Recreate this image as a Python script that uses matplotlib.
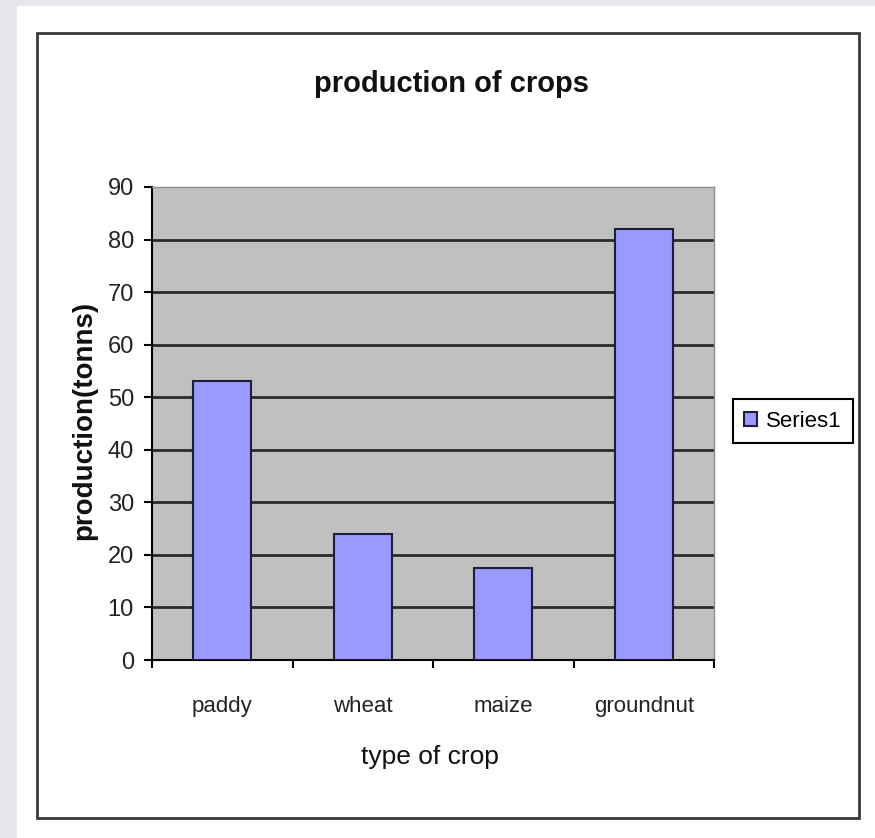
import matplotlib
matplotlib.use("Agg")
import matplotlib.pyplot as plt
from matplotlib.patches import Rectangle

# Chart data
crops = ["paddy", "wheat", "maize", "groundnut"]
production = [53, 24, 17.5, 82]
series_name = "Series1"
y_ticks = [0, 10, 20, 30, 40, 50, 60, 70, 80, 90]

plt.rcParams["font.family"] = ["Liberation Sans", "DejaVu Sans"]

W, H = 875, 838
fig = plt.figure(figsize=(W / 100, H / 100), dpi=100, facecolor="#e7e6ea")

# white page area and chart frame (kept behind the axes)
fig.patches.append(Rectangle((17 / W, 0), 1 - 17 / W, 1 - 6 / H, transform=fig.transFigure,
                             facecolor="white", edgecolor="none", zorder=-2))
fig.patches.append(Rectangle((37 / W, 1 - 818 / H), 822 / W, 785 / H, transform=fig.transFigure,
                             facecolor="none", edgecolor="#3a3a3a", linewidth=2, zorder=-1))

ax = fig.add_axes([152 / W, 1 - 660 / H, 562 / W, 473 / H])
ax.set_facecolor("#c0c0c0")

x = range(len(crops))
ax.bar(x, production, width=0.41, color="#9999ff", edgecolor="#1e1e3c", linewidth=1.5,
       label=series_name, zorder=3)

ax.set_xlim(-0.5, len(crops) - 0.5)
ax.set_ylim(0, 90)
ax.set_yticks(y_ticks)
ax.set_xticks(list(x))
ax.set_xticklabels(crops)
ax.set_xticks([i - 0.5 for i in range(len(crops) + 1)], minor=True)

ax.tick_params(axis="y", direction="out", length=6, width=1.5, labelsize=17, pad=7,
               labelcolor="#222222")
ax.tick_params(axis="x", which="major", length=0, labelsize=16, pad=26, labelcolor="#222222")
ax.tick_params(axis="x", which="minor", direction="out", length=6, width=1.5)

ax.yaxis.grid(True, color="#2a2a2a", linewidth=2, zorder=1)
ax.set_axisbelow(True)
for sp in ["left", "bottom"]:
    ax.spines[sp].set_color("black")
    ax.spines[sp].set_linewidth(1.5)
for sp in ["top", "right"]:
    ax.spines[sp].set_color("#8c8c8c")
    ax.spines[sp].set_linewidth(1)

fig.canvas.draw()
ax.yaxis.get_gridlines()[-1].set_visible(False)
ax.yaxis.get_gridlines()[0].set_visible(False)

ax.text((84 - 152) / 562, (660 - 420) / 473, "production(tonns)", transform=ax.transAxes,
        rotation=90, ha="center", va="center", fontsize=20, fontweight="bold", color="#111111")
ax.text((430 - 152) / 562, (660 - 757) / 473, "type of crop", transform=ax.transAxes,
        ha="center", va="center", fontsize=19, color="#111111")
fig.text(451 / W, 1 - 84 / H, "production of crops", ha="center", va="center",
         fontsize=21, fontweight="bold", color="#111111")

leg = ax.legend(loc="center left", bbox_to_anchor=(733 / W, 1 - 421 / H),
                bbox_transform=fig.transFigure, borderaxespad=0, fancybox=False,
                fontsize=16, handlelength=0.6, handleheight=0.6, handletextpad=0.4,
                borderpad=0.5, framealpha=1)
leg.get_frame().set_edgecolor("black")
leg.get_frame().set_linewidth(1.5)

fig.savefig("out.png", dpi=100, facecolor=fig.get_facecolor())
